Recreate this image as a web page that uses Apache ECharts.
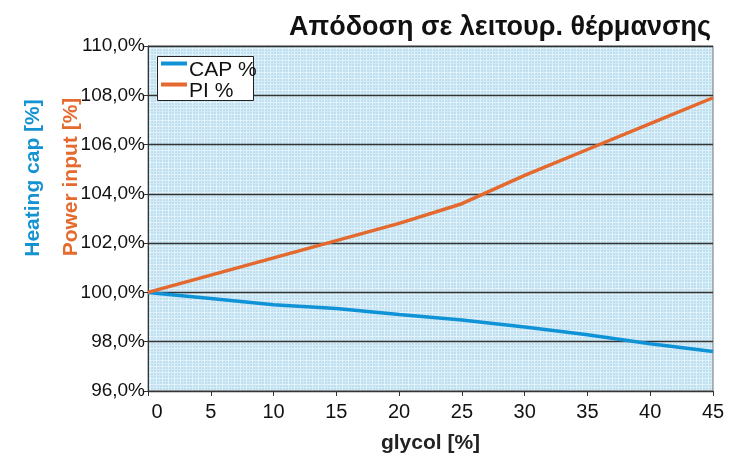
<!DOCTYPE html>
<html><head><meta charset="utf-8">
<script src="https://cdn.jsdelivr.net/npm/echarts@6/dist/echarts.min.js"></script>
<style>html,body{margin:0;padding:0;background:#fff}#c{width:733px;height:457px}</style>
</head><body><div id="c"></div>
<script>
const glycol = [0, 5, 10, 15, 20, 25, 30, 35, 40, 45];
const capPct = [100, 99.75, 99.5, 99.35, 99.1, 98.88, 98.6, 98.28, 97.92, 97.6];
const piPct  = [100, 100.7, 101.4, 102.1, 102.8, 103.6, 104.75, 105.8, 106.85, 107.9];
const yTicks = [96, 98, 100, 102, 104, 106, 108, 110];

const FF = "'Liberation Sans', Arial, sans-serif";
const chart = echarts.init(document.getElementById('c'), null, {renderer: 'canvas'});
const pc = document.createElement('canvas');
pc.width = 6; pc.height = 6;
const g = pc.getContext('2d');
g.fillStyle = '#bddff0'; g.fillRect(0, 0, 6, 6);
g.fillStyle = '#e6f3fa'; g.fillRect(0, 0, 6, 1); g.fillRect(0, 0, 1, 6);
g.fillStyle = '#d3ebf6'; g.fillRect(3, 0, 1, 6); g.fillRect(0, 3, 6, 1);

const toPairs = arr => glycol.map((x, i) => [x, arr[i]]);
chart.setOption({
  animation: false,
  title: {
    text: 'Απόδοση σε λειτουρ. θέρμανσης',
    right: 17, top: 9,
    textStyle: {fontFamily: FF, fontWeight: 'bold', fontSize: 27, color: '#111'}
  },
  legend: {
    left: 161, top: 46, orient: 'vertical', itemGap: -14, z: 5,
    padding: 0, itemWidth: 26, itemHeight: 4, icon: 'rect',
    formatter: name => '{t|' + name + '}',
    textStyle: {
      fontFamily: FF, fontSize: 21, color: '#111',
      rich: {t: {fontFamily: FF, fontSize: 21, color: '#111', lineHeight: 19, padding: [14, 0, 0, -3]}}
    }
  },
  grid: {left: 148, right: 20, top: 46, bottom: 66, outerBoundsMode: 'none', containLabel: false,
         show: true, backgroundColor: {image: pc, repeat: 'repeat'}, borderColor: '#777', borderWidth: 1},
  xAxis: {
    type: 'value', min: 0, max: 45, interval: 5,
    name: 'glycol [%]', nameLocation: 'middle', nameGap: 42,
    nameTextStyle: {fontFamily: FF, fontWeight: 'bold', fontSize: 21, color: '#222'},
    axisLine: {show: true, onZero: false, lineStyle: {color: '#333', width: 1}},
    axisTick: {show: true, length: 5, lineStyle: {color: '#333'}},
    splitLine: {show: false},
    axisLabel: {
      fontFamily: FF, fontSize: 20, color: '#111', margin: 11,
      formatter: v => v === 0 ? '{f|0}' : String(v),
      rich: {f: {fontFamily: FF, fontSize: 20, color: '#111', padding: [0, 0, 0, 18]}}
    }
  },
  yAxis: {
    type: 'value', min: 96, max: 110, interval: 2,
    axisLine: {show: true, lineStyle: {color: '#333', width: 1}},
    axisTick: {show: true, length: 4, lineStyle: {color: '#333'}},
    splitLine: {show: true, lineStyle: {color: '#333', width: 1.3}},
    axisLabel: {
      fontFamily: FF, fontSize: 19, color: '#111', margin: 3,
      formatter: v => yTicks.includes(v) ? v.toFixed(1).replace('.', ',') + '%' : ''
    }
  },
  graphic: [
    {type: 'rect', z: 3, shape: {x: 157.5, y: 56.5, width: 96, height: 44},
     style: {fill: '#fff', stroke: '#222', lineWidth: 1}},
    {type: 'text', rotation: Math.PI / 2, x: 33, y: 178,
     style: {text: 'Heating cap [%]', fill: '#1592d2', font: "bold 21px 'Liberation Sans', Arial", textAlign: 'center', textVerticalAlign: 'middle'}},
    {type: 'text', rotation: Math.PI / 2, x: 71, y: 177,
     style: {text: 'Power input [%]', fill: '#e46a2e', font: "bold 21px 'Liberation Sans', Arial", textAlign: 'center', textVerticalAlign: 'middle'}}
  ],
  series: [
    {name: 'CAP %', type: 'line', data: toPairs(capPct), showSymbol: false,
     lineStyle: {color: '#0f93d6', width: 3.5}, itemStyle: {color: '#0f93d6'}},
    {name: 'PI %', type: 'line', data: toPairs(piPct), showSymbol: false,
     lineStyle: {color: '#e3692e', width: 3.5}, itemStyle: {color: '#e3692e'}}
  ]
});
</script></body></html>
